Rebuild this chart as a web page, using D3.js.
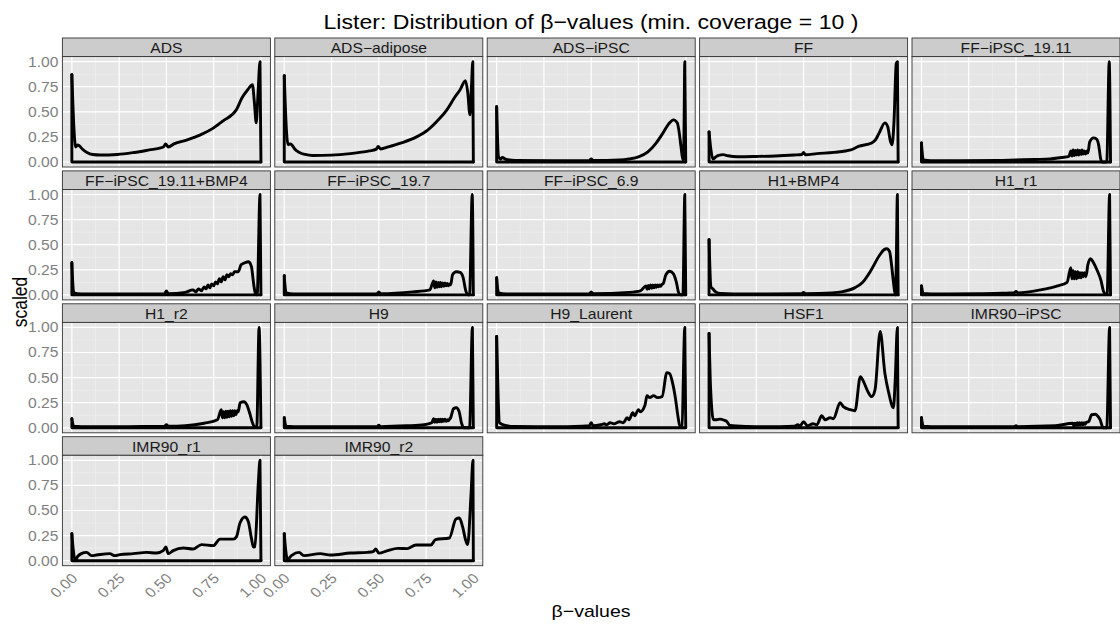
<!DOCTYPE html>
<html>
<head>
<meta charset="utf-8">
<script src="https://cdnjs.cloudflare.com/ajax/libs/d3/7.8.5/d3.min.js"></script>
<style>
body { margin: 0; background: #fff; }
text { font-family: "Liberation Sans", Arial, Helvetica, sans-serif; }
</style>
</head>
<body>
<div id="chart"></div>
<script>
// facet names, in panel order (5 per row)
var samples = ["ADS", "ADS\u2212adipose", "ADS\u2212iPSC", "FF", "FF\u2212iPSC_19.11",
  "FF\u2212iPSC_19.11+BMP4", "FF\u2212iPSC_19.7", "FF\u2212iPSC_6.9", "H1+BMP4", "H1_r1",
  "H1_r2", "H9", "H9_Laurent", "HSF1", "IMR90\u2212iPSC",
  "IMR90_r1", "IMR90_r2"];

// scaled density, [beta, scaled]
var ADS = [[0,0.87],[0.012,0.3],[0.02,0.15],[0.03,0.17],[0.04,0.16],[0.055,0.13],[0.08,0.095],[0.11,0.075],[0.15,0.07],[0.24,0.075],[0.33,0.095],[0.41,0.12],[0.47,0.14],[0.485,0.15],[0.496,0.18],[0.51,0.15],[0.54,0.18],[0.61,0.22],[0.68,0.27],[0.75,0.34],[0.8,0.41],[0.87,0.52],[0.9,0.64],[0.93,0.72],[0.955,0.77],[0.965,0.6],[0.975,0.39],[0.985,0.7],[0.995,1.0],[1,0]];
var ADS_adipose = [[0,0.86],[0.012,0.3],[0.02,0.17],[0.03,0.18],[0.04,0.17],[0.055,0.13],[0.08,0.095],[0.11,0.075],[0.15,0.065],[0.25,0.068],[0.35,0.083],[0.45,0.11],[0.485,0.125],[0.497,0.155],[0.51,0.13],[0.55,0.15],[0.62,0.19],[0.7,0.25],[0.76,0.32],[0.82,0.43],[0.86,0.52],[0.9,0.64],[0.93,0.72],[0.958,0.81],[0.97,0.7],[0.982,0.47],[0.99,0.75],[0.997,1.0],[1,0]];
var ADS_iPSC = [[0,0.55],[0.01,0.05],[0.02,0.03],[0.03,0.045],[0.05,0.025],[0.1,0.015],[0.3,0.012],[0.49,0.015],[0.5,0.03],[0.51,0.015],[0.65,0.02],[0.7,0.03],[0.75,0.05],[0.8,0.1],[0.84,0.18],[0.88,0.29],[0.91,0.38],[0.935,0.42],[0.955,0.39],[0.965,0.3],[0.975,0.15],[0.985,0.02],[0.99,0.2],[0.995,1.0],[1,0]];
var FF = [[0,0.3],[0.01,0.12],[0.02,0.03],[0.035,0.05],[0.05,0.065],[0.075,0.073],[0.1,0.062],[0.15,0.052],[0.25,0.055],[0.35,0.06],[0.45,0.07],[0.49,0.075],[0.5,0.095],[0.51,0.072],[0.57,0.083],[0.66,0.096],[0.75,0.12],[0.79,0.155],[0.86,0.19],[0.88,0.22],[0.9,0.29],[0.93,0.39],[0.945,0.35],[0.96,0.2],[0.968,0.17],[0.978,0.4],[0.99,0.98],[0.996,1.0],[1,0]];
var FF_iPSC_19_11 = [[0,0.19],[0.01,0.02],[0.05,0.012],[0.2,0.012],[0.4,0.015],[0.5,0.02],[0.6,0.025],[0.68,0.03],[0.74,0.045],[0.78,0.055],[0.79,0.11],[0.796,0.06],[0.802,0.12],[0.808,0.065],[0.814,0.115],[0.82,0.07],[0.826,0.12],[0.832,0.07],[0.838,0.115],[0.844,0.075],[0.85,0.12],[0.856,0.08],[0.862,0.11],[0.868,0.08],[0.874,0.11],[0.88,0.09],[0.89,0.2],[0.91,0.24],[0.925,0.23],[0.937,0.17],[0.948,0.03],[0.955,0],[0.98,0],[0.993,1.0],[1,0]];
var FF_iPSC_19_11_BMP4 = [[0,0.32],[0.01,0.02],[0.05,0.01],[0.3,0.01],[0.49,0.012],[0.5,0.04],[0.51,0.012],[0.6,0.025],[0.64,0.05],[0.655,0.03],[0.67,0.06],[0.685,0.04],[0.7,0.08],[0.71,0.06],[0.72,0.1],[0.73,0.07],[0.74,0.11],[0.75,0.09],[0.76,0.13],[0.77,0.11],[0.78,0.16],[0.79,0.13],[0.8,0.18],[0.81,0.15],[0.82,0.2],[0.83,0.18],[0.84,0.21],[0.85,0.2],[0.86,0.23],[0.88,0.23],[0.895,0.3],[0.915,0.32],[0.935,0.33],[0.95,0.28],[0.962,0.1],[0.97,0.02],[0.98,0],[0.995,1.0],[1,0]];
var FF_iPSC_19_7 = [[0,0.19],[0.01,0.02],[0.05,0.01],[0.3,0.01],[0.49,0.012],[0.5,0.03],[0.51,0.012],[0.68,0.03],[0.77,0.05],[0.79,0.14],[0.796,0.07],[0.802,0.13],[0.808,0.075],[0.814,0.125],[0.82,0.08],[0.826,0.125],[0.832,0.08],[0.838,0.12],[0.844,0.085],[0.85,0.12],[0.856,0.09],[0.862,0.115],[0.868,0.09],[0.874,0.11],[0.88,0.1],[0.89,0.2],[0.91,0.23],[0.93,0.225],[0.945,0.18],[0.96,0.04],[0.972,0],[0.98,0],[0.994,1.0],[1,0]];
var FF_iPSC_6_9 = [[0,0.17],[0.01,0.02],[0.05,0.01],[0.3,0.01],[0.49,0.012],[0.5,0.03],[0.51,0.012],[0.7,0.025],[0.76,0.04],[0.79,0.09],[0.796,0.055],[0.802,0.095],[0.808,0.06],[0.814,0.1],[0.82,0.065],[0.826,0.1],[0.832,0.07],[0.838,0.1],[0.844,0.075],[0.85,0.1],[0.856,0.08],[0.862,0.1],[0.868,0.085],[0.874,0.105],[0.88,0.11],[0.895,0.2],[0.915,0.235],[0.935,0.21],[0.95,0.13],[0.963,0.02],[0.975,0],[0.985,0],[0.995,1.0],[1,0]];
var H1_BMP4 = [[0,0.55],[0.01,0.08],[0.02,0.06],[0.035,0.03],[0.06,0.015],[0.2,0.01],[0.49,0.012],[0.5,0.025],[0.51,0.012],[0.65,0.02],[0.7,0.03],[0.77,0.07],[0.81,0.12],[0.855,0.24],[0.9,0.39],[0.925,0.45],[0.94,0.46],[0.955,0.43],[0.965,0.3],[0.975,0.13],[0.985,0],[0.99,0.3],[0.996,1.0],[1,0]];
var H1_r1 = [[0,0.09],[0.01,0.015],[0.05,0.01],[0.3,0.012],[0.45,0.018],[0.49,0.02],[0.5,0.035],[0.51,0.02],[0.63,0.05],[0.72,0.09],[0.77,0.125],[0.79,0.27],[0.796,0.16],[0.802,0.24],[0.808,0.16],[0.814,0.23],[0.82,0.16],[0.826,0.23],[0.832,0.17],[0.838,0.22],[0.844,0.17],[0.85,0.22],[0.856,0.18],[0.862,0.22],[0.868,0.18],[0.874,0.22],[0.88,0.3],[0.895,0.36],[0.91,0.32],[0.93,0.24],[0.95,0.14],[0.962,0.04],[0.972,0.01],[0.982,0.01],[0.995,1.0],[1,0]];
var H1_r2 = [[0,0.09],[0.01,0.015],[0.05,0.01],[0.3,0.012],[0.49,0.015],[0.5,0.03],[0.51,0.015],[0.6,0.02],[0.7,0.045],[0.77,0.08],[0.79,0.18],[0.796,0.1],[0.802,0.16],[0.808,0.1],[0.814,0.165],[0.82,0.105],[0.826,0.165],[0.832,0.11],[0.838,0.17],[0.844,0.115],[0.85,0.17],[0.856,0.12],[0.862,0.17],[0.868,0.13],[0.874,0.17],[0.88,0.16],[0.89,0.25],[0.91,0.26],[0.925,0.23],[0.94,0.15],[0.955,0.05],[0.966,0.01],[0.978,0.01],[0.99,1.0],[1,0]];
var H9 = [[0,0.1],[0.01,0.015],[0.05,0.01],[0.3,0.01],[0.49,0.012],[0.5,0.025],[0.51,0.012],[0.65,0.02],[0.74,0.03],[0.78,0.05],[0.79,0.09],[0.796,0.055],[0.802,0.085],[0.808,0.055],[0.814,0.085],[0.82,0.06],[0.826,0.085],[0.832,0.06],[0.838,0.085],[0.844,0.065],[0.85,0.085],[0.856,0.065],[0.862,0.08],[0.868,0.07],[0.874,0.085],[0.88,0.1],[0.895,0.19],[0.91,0.2],[0.925,0.16],[0.937,0.05],[0.95,0],[0.98,0],[0.995,1.0],[1,0]];
var H9_Laurent = [[0,0.91],[0.008,0.3],[0.015,0.05],[0.035,0.03],[0.09,0.013],[0.3,0.01],[0.45,0.015],[0.49,0.02],[0.5,0.05],[0.51,0.02],[0.55,0.03],[0.57,0.04],[0.58,0.03],[0.6,0.05],[0.62,0.04],[0.65,0.06],[0.67,0.05],[0.69,0.1],[0.7,0.08],[0.72,0.15],[0.73,0.12],[0.75,0.18],[0.76,0.16],[0.785,0.23],[0.795,0.32],[0.81,0.3],[0.83,0.32],[0.85,0.3],[0.875,0.31],[0.9,0.55],[0.915,0.54],[0.93,0.45],[0.945,0.3],[0.96,0.1],[0.97,0.01],[0.98,0.02],[0.995,1.0],[1,0]];
var HSF1 = [[0,0.94],[0.008,0.4],[0.023,0.08],[0.04,0.08],[0.058,0.086],[0.08,0.075],[0.093,0.063],[0.11,0.023],[0.2,0.013],[0.3,0.01],[0.45,0.015],[0.47,0.03],[0.48,0.015],[0.5,0.06],[0.52,0.02],[0.55,0.04],[0.57,0.03],[0.596,0.12],[0.614,0.08],[0.64,0.1],[0.658,0.09],[0.693,0.25],[0.71,0.21],[0.746,0.18],[0.772,0.17],[0.8,0.51],[0.817,0.46],[0.84,0.36],[0.86,0.31],[0.878,0.38],[0.905,0.96],[0.93,0.54],[0.95,0.35],[0.975,0.2],[0.985,0.5],[0.996,1.0],[1,0]];
var IMR90_iPSC = [[0,0.1],[0.01,0.015],[0.05,0.01],[0.3,0.01],[0.49,0.012],[0.5,0.02],[0.51,0.012],[0.71,0.02],[0.8,0.045],[0.806,0.02],[0.812,0.045],[0.818,0.025],[0.824,0.05],[0.83,0.025],[0.836,0.05],[0.842,0.03],[0.848,0.05],[0.854,0.03],[0.86,0.05],[0.866,0.035],[0.872,0.055],[0.884,0.06],[0.9,0.13],[0.92,0.135],[0.935,0.11],[0.945,0.08],[0.955,0.02],[0.963,0],[0.98,0],[0.995,1.0],[1,0]];
var IMR90_r1 = [[0,0.27],[0.008,0.1],[0.018,0],[0.03,0.04],[0.05,0.07],[0.078,0.083],[0.104,0.05],[0.13,0.056],[0.2,0.07],[0.228,0.05],[0.254,0.06],[0.325,0.07],[0.395,0.083],[0.448,0.076],[0.483,0.1],[0.497,0.136],[0.51,0.07],[0.536,0.1],[0.59,0.126],[0.64,0.116],[0.686,0.16],[0.748,0.15],[0.783,0.215],[0.854,0.215],[0.871,0.24],[0.889,0.375],[0.915,0.435],[0.933,0.39],[0.95,0.22],[0.96,0.136],[0.968,0.14],[0.986,0.77],[0.995,1.0],[1,0]];
var IMR90_r2 = [[0,0.27],[0.008,0.1],[0.018,0],[0.03,0.035],[0.042,0.056],[0.078,0.083],[0.104,0.05],[0.19,0.07],[0.245,0.056],[0.35,0.076],[0.44,0.083],[0.47,0.09],[0.484,0.116],[0.5,0.075],[0.546,0.1],[0.6,0.123],[0.65,0.12],[0.696,0.156],[0.776,0.156],[0.8,0.21],[0.873,0.226],[0.908,0.415],[0.926,0.425],[0.943,0.34],[0.96,0.2],[0.97,0.16],[0.988,0.67],[0.998,1.0],[1,0]];

var curves = [ADS, ADS_adipose, ADS_iPSC, FF, FF_iPSC_19_11,
  FF_iPSC_19_11_BMP4, FF_iPSC_19_7, FF_iPSC_6_9, H1_BMP4, H1_r1,
  H1_r2, H9, H9_Laurent, HSF1, IMR90_iPSC,
  IMR90_r1, IMR90_r2];

var majorBreaks = [0, 0.25, 0.5, 0.75, 1];
var minorBreaks = [0.125, 0.375, 0.625, 0.875];

var svgWidth = 1120;
var svgHeight = 624;
var ncol = 5;
var left0 = 62.4, colStep = 212.4, panelW = 208;
var top0 = 38, rowStep = 132.9, stripH = 18.6, panelH = 110.4;
var sx = 1.12; // the picture is a bit wider than tall

var svg = d3.select("#chart")
.append("svg")
.attr("width", svgWidth)
.attr("height", svgHeight);

var x = d3.scaleLinear().domain([-0.05, 1.05]).range([0, panelW]);
var y = d3.scaleLinear().domain([-0.05, 1.05]).range([panelH, 0]);

var line = d3.line()
.x(d => x(d[0]))
.y(d => y(d[1]))
.curve(d3.curveMonotoneX);

function label(g, px, py, str, size, rot) {
  return g.append("text")
  .attr("transform", `translate(${px},${py}) scale(${sx},1)` + (rot ? ` rotate(${rot})` : ""))
  .attr("font-size", size)
  .attr("text-anchor", "middle")
  .text(str);
}

var nrowLast = Math.floor((samples.length - 1) / ncol);

samples.forEach(function(name, i) {
  var col = i % ncol, row = Math.floor(i / ncol);
  var g = svg.append("g")
  .attr("transform", `translate(${left0 + col * colStep}, ${top0 + row * rowStep})`);

  // strip
  g.append("rect")
  .attr("width", panelW).attr("height", stripH)
  .attr("fill", "#CCCCCC").attr("stroke", "#333").attr("stroke-width", 0.9);
  label(g, panelW / 2, 15.2, name, 14).attr("fill", "#1a1a1a");

  var p = g.append("g").attr("transform", `translate(0, ${stripH})`);
  p.append("rect").attr("width", panelW).attr("height", panelH).attr("fill", "#E5E5E5");

  p.selectAll(".minx").data(minorBreaks).enter().append("line")
  .attr("x1", d => x(d)).attr("x2", d => x(d)).attr("y1", 0).attr("y2", panelH)
  .attr("stroke", "#F2F2F2").attr("stroke-width", 0.6);
  p.selectAll(".miny").data(minorBreaks).enter().append("line")
  .attr("y1", d => y(d)).attr("y2", d => y(d)).attr("x1", 0).attr("x2", panelW)
  .attr("stroke", "#F2F2F2").attr("stroke-width", 0.6);
  p.selectAll(".majx").data(majorBreaks).enter().append("line")
  .attr("x1", d => x(d)).attr("x2", d => x(d)).attr("y1", 0).attr("y2", panelH)
  .attr("stroke", "#fff").attr("stroke-width", 1.2);
  p.selectAll(".majy").data(majorBreaks).enter().append("line")
  .attr("y1", d => y(d)).attr("y2", d => y(d)).attr("x1", 0).attr("x2", panelW)
  .attr("stroke", "#fff").attr("stroke-width", 1.2);

  var data = curves[i];
  var first = data[0], last = data[data.length - 1];
  // closing outline of the density (edges + baseline)
  p.append("path")
  .attr("d", `M${x(last[0])},${y(last[1])}L${x(1)},${y(0)}L${x(0)},${y(0)}L${x(0)},${y(first[1])}`)
  .attr("fill", "none").attr("stroke", "#000").attr("stroke-width", 2.9)
  .attr("stroke-linejoin", "round").attr("stroke-linecap", "round");
  p.append("path")
  .datum(data)
  .attr("d", line)
  .attr("fill", "none").attr("stroke", "#000").attr("stroke-width", 2.9)
  .attr("stroke-linejoin", "round").attr("stroke-linecap", "round");

  p.append("rect").attr("width", panelW).attr("height", panelH)
  .attr("fill", "none").attr("stroke", "#333").attr("stroke-width", 0.9);

  if (col == 0) {
    var ya = p.append("g").call(d3.axisLeft(y).tickValues(majorBreaks).tickFormat(d3.format(".2f")).tickSize(0).tickPadding(3.9));
    ya.select(".domain").remove();
    ya.attr("font-size", 14).attr("font-family", null);
    ya.selectAll("text").attr("fill", "#7F7F7F")
    .attr("x", -3.9 / sx).attr("transform", `scale(${sx},1)`);
  }
  if (row == nrowLast) {
    var xa = p.append("g").attr("transform", `translate(0, ${panelH})`)
    .call(d3.axisBottom(x).tickValues(majorBreaks).tickFormat(d3.format(".2f")).tickSize(0));
    xa.select(".domain").remove();
    xa.attr("font-size", 14).attr("font-family", null);
    xa.selectAll("text").attr("fill", "#7F7F7F")
    .attr("x", 0).attr("y", 0).attr("dy", null)
    .attr("text-anchor", "end")
    .attr("transform", `translate(6, 13.5) scale(${sx},1) rotate(-45)`);
  }
});

label(svg, 591, 28.7, "Lister: Distribution of \u03b2\u2212values (min. coverage = 10 )", 20.6);
label(svg, 591, 616.5, "\u03b2\u2212values", 17.4);
label(svg, 27, 302, "scaled", 17.4, -90);
</script>
</body>
</html>
